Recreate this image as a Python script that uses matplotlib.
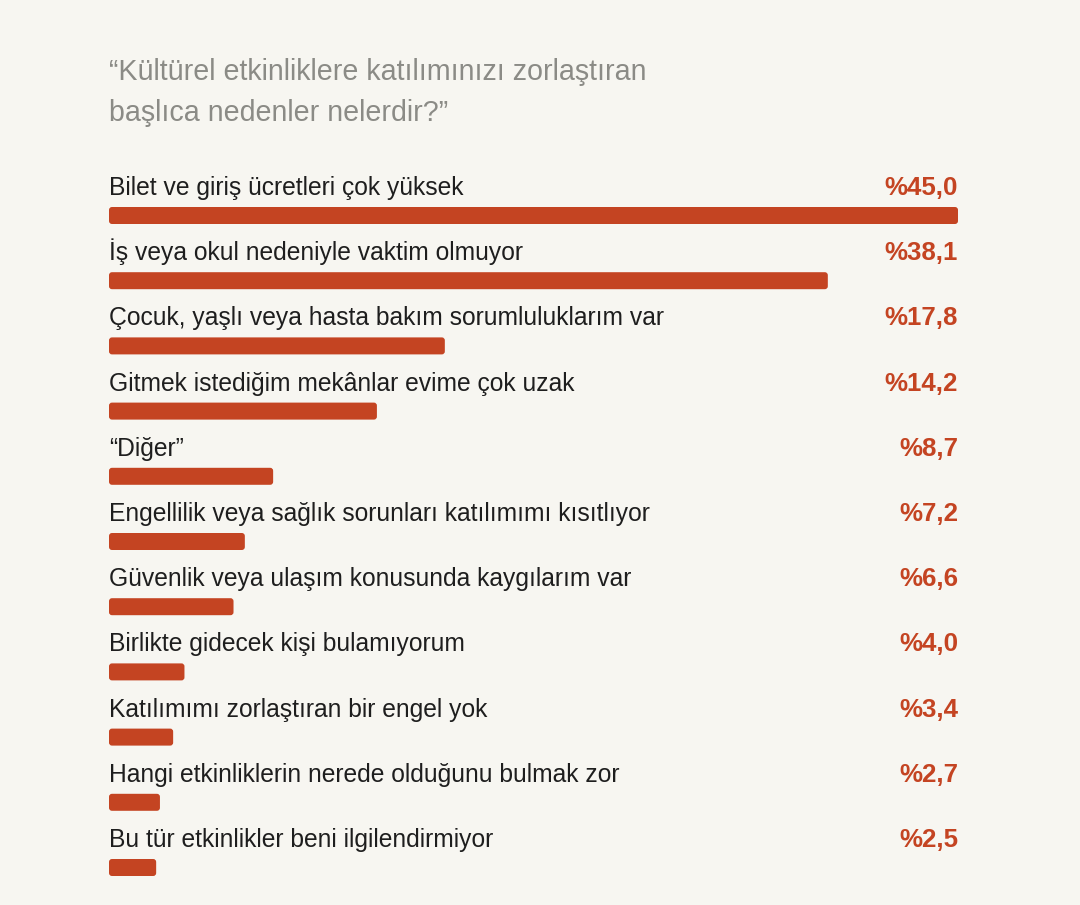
import matplotlib.pyplot as plt
from matplotlib.patches import FancyBboxPatch

plt.rcParams['font.family'] = ['Liberation Sans', 'DejaVu Sans']

title = '“Kültürel etkinliklere katılımınızı zorlaştıran\nbaşlıca nedenler nelerdir?”'
reasons = [
    'Bilet ve giriş ücretleri çok yüksek',
    'İş veya okul nedeniyle vaktim olmuyor',
    'Çocuk, yaşlı veya hasta bakım sorumluluklarım var',
    'Gitmek istediğim mekânlar evime çok uzak',
    '“Diğer”',
    'Engellilik veya sağlık sorunları katılımımı kısıtlıyor',
    'Güvenlik veya ulaşım konusunda kaygılarım var',
    'Birlikte gidecek kişi bulamıyorum',
    'Katılımımı zorlaştıran bir engel yok',
    'Hangi etkinliklerin nerede olduğunu bulmak zor',
    'Bu tür etkinlikler beni ilgilendirmiyor',
]
shares = [45.0, 38.1, 17.8, 14.2, 8.7, 7.2, 6.6, 4.0, 3.4, 2.7, 2.5]

BG = '#f7f6f1'
BAR = '#c44422'
TEXT = '#1e1e1e'
GREY = '#8b8b86'

W, H = 1080, 905
fig = plt.figure(figsize=(W / 100, H / 100), dpi=100, facecolor=BG)

# axes: x from 0..45 spans the bar area, one row = 65.2 px
left, right = 109, 958
top, bottom = 150, 890
pitch = 65.2
ax = fig.add_axes([left / W, 1 - bottom / H, (right - left) / W, (bottom - top) / H])
ax.set_facecolor(BG)
ax.set_xlim(0, max(shares))
y_top = -(215.5 - top) / pitch
ax.set_ylim(y_top + (bottom - top) / pitch, y_top)
ax.axis('off')

px_x = (right - left) / max(shares)
bar_h = 17 / pitch
radius = 3 / px_x
for i, (name, val) in enumerate(zip(reasons, shares)):
    ax.add_patch(FancyBboxPatch((0, i - bar_h / 2), val, bar_h,
                                boxstyle=f'round,pad=0,rounding_size={radius}',
                                mutation_aspect=px_x / pitch,
                                facecolor=BAR, edgecolor='none'))
    yb = i - 20.5 / pitch
    ax.text(0, yb, name, ha='left', va='baseline', fontsize=17.7, color=TEXT)
    ax.text(max(shares), yb, '%' + f'{val:.1f}'.replace('.', ','),
            ha='right', va='baseline', fontsize=18.6, fontweight='bold', color=BAR)

fig.text(left / W, 1 - 58 / H, title, ha='left', va='top', fontsize=20.6,
         color=GREY, linespacing=1.6)

fig.savefig('out.png', dpi=100, facecolor=BG)
